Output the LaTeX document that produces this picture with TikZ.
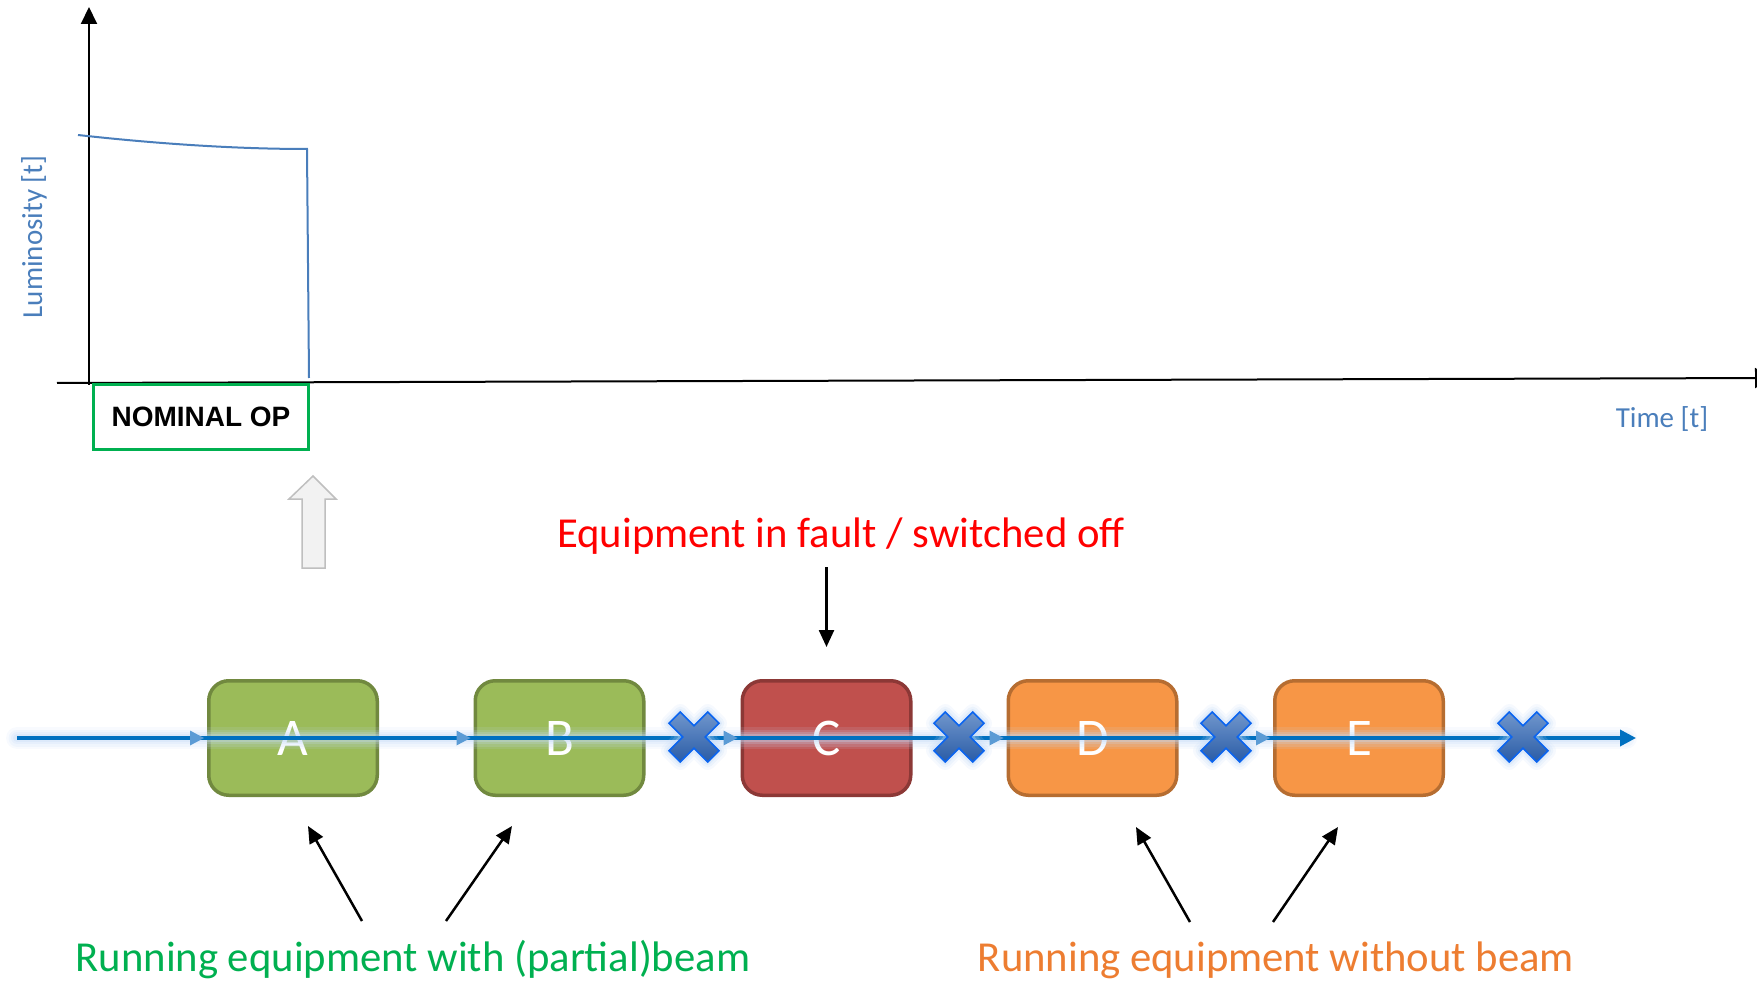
\documentclass[tikz,border=0pt]{standalone}
\usepackage{fontspec}
\setmainfont{Carlito}
\newfontfamily\headfont{Liberation Sans}
\usetikzlibrary{arrows.meta,calc}

\definecolor{axisblue}{HTML}{4A7EBB}
\definecolor{beamblue}{HTML}{0070C0}
\definecolor{tipblue}{HTML}{5B9BD5}
\definecolor{glowblue}{HTML}{C4DAF7}
\definecolor{okgreen}{HTML}{00B050}
\definecolor{faultred}{HTML}{FF0000}
\definecolor{warnorange}{HTML}{ED7D31}
\definecolor{greenfill}{HTML}{9BBB59}
\definecolor{greenedge}{HTML}{71893F}
\definecolor{redfill}{HTML}{C0504D}
\definecolor{rededge}{HTML}{8C3836}
\definecolor{orangefill}{HTML}{F79646}
\definecolor{orangeedge}{HTML}{B66D31}
\definecolor{crosstop}{HTML}{7096CC}
\definecolor{crossbot}{HTML}{2A5CA6}
\definecolor{crossedge}{HTML}{0A64F0}
\definecolor{hintfill}{HTML}{F2F2F2}
\definecolor{hintedge}{HTML}{BFBFBF}

\begin{document}
\begin{tikzpicture}[x=1pt,y=-1pt,
  axis line/.style={line width=2pt, black},
  unitbox/.style={rounded corners=20pt, line width=3.5pt, minimum width=168.5pt,
    minimum height=114.5pt, inner sep=0pt, text=white,
    font=\fontsize{53}{53}\selectfont},
  goodunit/.style={unitbox, fill=greenfill, draw=greenedge},
  badunit/.style={unitbox, fill=redfill, draw=rededge},
  idleunit/.style={unitbox, fill=orangefill, draw=orangeedge},
  caption/.style={anchor=base, inner sep=0pt, font=\fontsize{42.7}{42.7}\selectfont},
  axislabel/.style={anchor=base, inner sep=0pt, text=axisblue, font=\fontsize{29}{29}\selectfont},
  pointer/.style={line width=2.5pt, black, -{Triangle[length=17pt,width=15pt]}},
  cross outline/.style={insert path={(0,11.3) -- (13.7,25) -- (25,13.7) -- (11.3,0)
    -- (25,-13.7) -- (13.7,-25) -- (0,-11.3) -- (-13.7,-25) -- (-25,-13.7)
    -- (-11.3,0) -- (-25,13.7) -- (-13.7,25) -- cycle}},
]
\useasboundingbox (0,0) rectangle (1757,981);

% ---- luminosity plot ----
\draw[axis line, -{Triangle[length=17pt,width=16pt]}] (89,385) -- (89,7);
\draw[axis line, -{Triangle[length=17pt,width=20pt]}] (57,383) -- (1772,378);
\draw[axisblue, line width=2pt] (78,135) .. controls (150,143) and (230,149) .. (307,149) -- (309,378);
\node[axislabel, rotate=90] (ylabel) at (42,237) {Luminosity [t]};
\node[axislabel] (xlabel) at (1662,428) {Time [t]};
\node[draw=okgreen, line width=3pt, minimum width=215pt, minimum height=65pt, inner sep=0pt,
  font=\headfont\bfseries\fontsize{28}{28}\selectfont] (nominal) at (201,417) {NOMINAL OP};

% hollow grey arrow pointing up to the operating phase
\filldraw[fill=hintfill, draw=hintedge, line width=1.5pt]
  (313,476) -- (336,499) -- (325,499) -- (325,568) -- (302,568) -- (302,499) -- (289,499) -- cycle;

% ---- equipment chain ----
\node[goodunit] (A) at (293,738) {A};
\node[goodunit] (B) at (559.5,738) {B};
\node[badunit]  (C) at (826.5,738) {C};
\node[idleunit] (D) at (1092.5,738) {D};
\node[idleunit] (E) at (1359,738) {E};

% beam line with a soft glow
\coordinate (beamstart) at (17,738);
\coordinate (beamend) at (1636,738);
\foreach \w/\o in {22/0.12, 17/0.16, 12/0.22, 8/0.3}
  \draw[glowblue, line width=\w pt, opacity=\o, line cap=round] (beamstart) -- ($(beamend)+(-10,0)$);
\draw[beamblue, line width=3.5pt, -{Triangle[length=16pt,width=16pt]}] (beamstart) -- (beamend);

% small arrowheads where the beam enters each unit
\foreach \u in {A,B,C,D,E}
  \fill[tipblue] ($(\u.west)+(-17,-7.5)$) -- ($(\u.west)+(-3,0)$) -- ($(\u.west)+(-17,7.5)$) -- cycle;

% beam stops
\foreach \cx in {694,959,1226,1523} {
  \begin{scope}[shift={(\cx,737)}]
    \foreach \w/\o in {16/0.15, 11/0.22, 6/0.35}
      \path[draw=glowblue, line width=\w pt, opacity=\o, line join=round, cross outline];
    \shadedraw[top color=crosstop, bottom color=crossbot, draw=crossedge, line width=1.6pt, cross outline];
  \end{scope}
}

% ---- captions ----
\node[caption, text=faultred] (fault) at (841,547) {Equipment in fault / switched off};
\node[caption, text=okgreen] (withbeam) at (413,971) {Running equipment with (partial)beam};
\node[caption, text=warnorange] (nobeam) at (1276,971) {Running equipment without beam};

\draw[pointer, shorten <=13pt, shorten >=32pt] (C.north |- fault.south) -- (C.north);

\coordinate (ta) at (362,921); \coordinate (ha) at (308,826);
\coordinate (tb) at (446,921); \coordinate (hb) at (512,826);
\coordinate (td) at (1190,922); \coordinate (hd) at (1136,827);
\coordinate (te) at (1273,922); \coordinate (he) at (1338,827);
\draw[pointer] (ta) -- (ha);
\draw[pointer] (tb) -- (hb);
\draw[pointer] (td) -- (hd);
\draw[pointer] (te) -- (he);
\end{tikzpicture}
\end{document}
